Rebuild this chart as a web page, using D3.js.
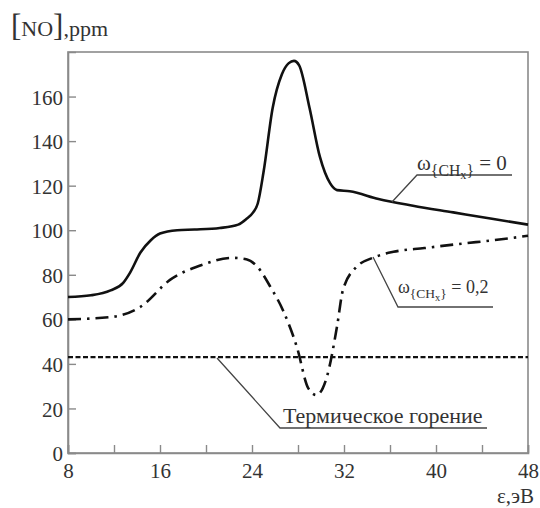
<!DOCTYPE html>
<html>
<head>
<meta charset="utf-8">
<script src="https://cdn.jsdelivr.net/npm/d3@7"></script>
<style>
  body { margin: 0; background: #fff; }
</style>
</head>
<body>
<div id="chart"></div>
<script>
// energy, eV
var solidX = [8, 10, 11.7, 12.8, 13.4, 14.3, 15.2, 16, 17.5, 19, 21.2, 22.8, 23.5, 24.1, 24.5, 25, 25.8, 26.6, 27.2, 27.65, 28.1, 29, 29.9, 30.8, 31.4, 32.5, 35, 38, 41.5, 45, 48];
// [NO] for omega = 0
var solidY = [70, 70.8, 73, 76.4, 81, 90, 95.5, 98.5, 100, 100.3, 101, 102.5, 105, 108, 112, 126, 155, 170, 175, 176, 174, 155, 133, 121, 118, 117.5, 114, 111, 108, 105, 102.5];

// [NO] for omega = 0,2
var dashDotX = [8, 11.7, 14.3, 16.9, 19.7, 22.3, 23.5, 24.4, 25.6, 26.7, 27.9, 28.9, 29.6, 30.5, 31.4, 31.9, 33.1, 34.5, 36.3, 39, 42.3, 45, 48];
var dashDotY = [60, 61, 65.6, 77.8, 84.5, 87.6, 87, 84, 74.6, 64, 47.6, 29, 26, 34, 57, 73, 83.6, 87.6, 90.3, 92, 94, 95.5, 97.5];

// thermal combustion
var thermalX = [8, 48];
var thermalY = [43, 43];

var yTicks = [0, 20, 40, 60, 80, 100, 120, 140, 160];
var xTicks = [8, 12, 16, 20, 24, 28, 32, 36, 40, 44, 48];
var xLabels = [8, 16, 24, 32, 40, 48];

var width = 540, height = 508;
var margin = {top: 52, right: 12, bottom: 55, left: 68};
var serif = 'Liberation Serif';

var svg = d3.select('#chart').append('svg')
    .attr('width', width)
    .attr('height', height)
    .attr('font-family', serif);

var x = d3.scaleLinear().domain([8, 48]).range([margin.left, width - margin.right]);
var y = d3.scaleLinear().domain([0, 180]).range([height - margin.bottom, margin.top]);

// frame
svg.append('rect')
    .attr('x', x(8)).attr('y', y(180))
    .attr('width', x(48) - x(8)).attr('height', y(0) - y(180))
    .attr('fill', 'none').attr('stroke', '#8a8a8a').attr('stroke-width', 1.6);

var yAxis = d3.axisLeft(y).tickValues(yTicks).tickSize(-8).tickPadding(5);
var gy = svg.append('g').attr('transform', 'translate(' + x(8) + ',0)').call(yAxis);

var xAxis = d3.axisBottom(x).tickValues(xTicks).tickSize(-8).tickPadding(10)
    .tickFormat(function(d) { return xLabels.indexOf(d) >= 0 ? d : ''; });
var gx = svg.append('g').attr('transform', 'translate(0,' + y(0) + ')').call(xAxis);

[gx, gy].forEach(function(g) {
  g.attr('font-family', serif).attr('font-size', 21);
  g.select('.domain').attr('stroke', '#8a8a8a').attr('stroke-width', 1.6);
  g.selectAll('.tick line').attr('stroke', '#8a8a8a').attr('stroke-width', 1.4);
  g.selectAll('.tick text')
    .attr('font-family', serif)
    .attr('font-size', 21).attr('fill', '#333');
});
gy.selectAll('.tick text').attr('dy', '0.36em');

var line = d3.line()
    .x(function(d) { return x(d[0]); })
    .y(function(d) { return y(d[1]); })
    .curve(d3.curveMonotoneX);

svg.append('path')
    .datum(d3.zip(thermalX, thermalY))
    .attr('d', line)
    .attr('fill', 'none').attr('stroke', '#111').attr('stroke-width', 2.2)
    .attr('stroke-dasharray', '5,2.5');

svg.append('path')
    .datum(d3.zip(dashDotX, dashDotY))
    .attr('d', line)
    .attr('fill', 'none').attr('stroke', '#111').attr('stroke-width', 2.6)
    .attr('stroke-dasharray', '13,6,2.5,6');

svg.append('path')
    .datum(d3.zip(solidX, solidY))
    .attr('d', line)
    .attr('fill', 'none').attr('stroke', '#111').attr('stroke-width', 2.6);

// leaders
var leaders = svg.append('g').attr('fill', 'none').attr('stroke', '#444').attr('stroke-width', 1.3);
leaders.append('polyline').attr('points', '392,202 417,175 512,175');
leaders.append('polyline').attr('points', '373,257 398,307 493,307');
leaders.append('polyline').attr('points', '217,358 280,428 487,428');

function txt(px, py, size) {
  return svg.append('text').attr('x', px).attr('y', py)
      .attr('font-size', size).attr('fill', '#333').attr('font-family', serif);
}

// axis titles
var yt = txt(11, 36, 22);
yt.append('tspan').attr('font-size', 31).text('[');
yt.append('tspan').text('NO');
yt.append('tspan').attr('font-size', 31).text(']');
yt.append('tspan').text(',ppm');

txt(534, 503, 21).attr('text-anchor', 'end').text('ε,эВ');

// series labels
function omegaLabel(px, py, size, value) {
  var t = txt(px, py, size);
  t.append('tspan').text('ω');
  t.append('tspan').attr('font-size', size * 0.75).attr('dy', size * 0.3).text('{CH');
  t.append('tspan').attr('font-size', size * 0.58).attr('dy', size * 0.15).text('x');
  t.append('tspan').attr('font-size', size * 0.75).attr('dy', -size * 0.15).text('}');
  t.append('tspan').attr('dy', -size * 0.3).text(' = ' + value);
}
omegaLabel(417, 170, 21, '0');
omegaLabel(398, 293, 18, '0,2');

txt(283, 423, 22).text('Термическое горение');
</script>
</body>
</html>
